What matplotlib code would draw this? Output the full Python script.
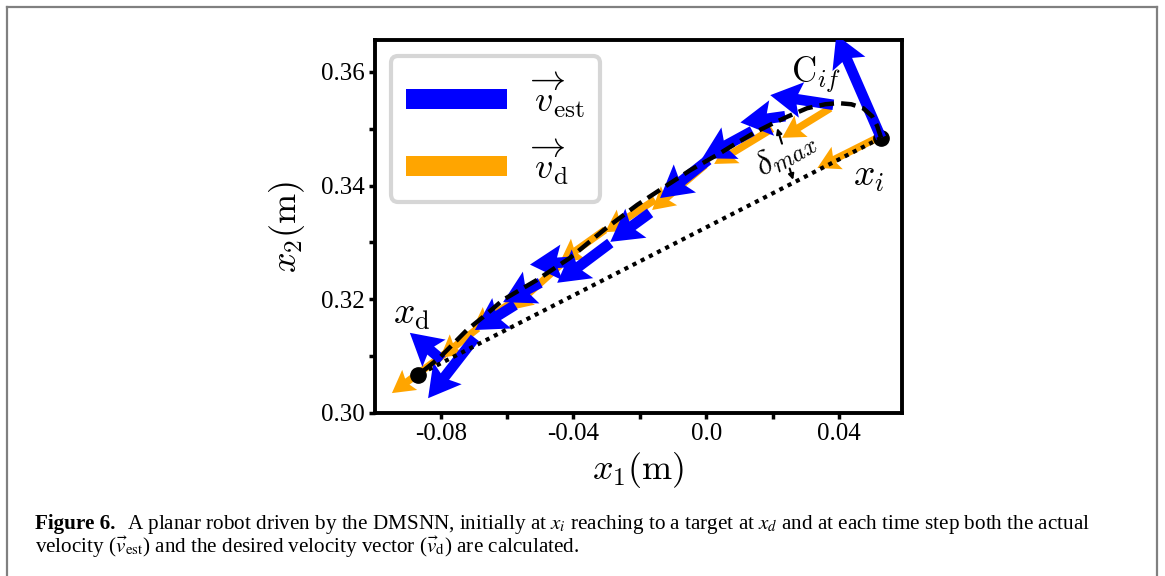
import matplotlib
matplotlib.use("Agg")
import matplotlib.pyplot as plt
from matplotlib.lines import Line2D
from matplotlib.patches import Patch

plt.rcParams["mathtext.fontset"] = "cm"
plt.rcParams["font.family"] = ["Liberation Serif", "DejaVu Serif"]
plt.rcParams["axes.unicode_minus"] = False

# ---- data (metres) ---------------------------------------------------------
# end-effector path from x_i to x_d
path_x = [0.0527, 0.0515, 0.0500, 0.0473, 0.0437, 0.0398, 0.0359, 0.0304,
          0.0244, 0.0193, 0.0142, 0.0081, 0.0042, -0.0048, -0.0130, -0.0208,
          -0.0304, -0.0410, -0.0510, -0.0612, -0.0672, -0.0721, -0.0802,
          -0.0868]
path_y = [0.3484, 0.3505, 0.3522, 0.3536, 0.3543, 0.3545, 0.3543, 0.3536,
          0.3521, 0.3507, 0.3492, 0.3471, 0.3457, 0.3427, 0.3396, 0.3366,
          0.3324, 0.3273, 0.3234, 0.3199, 0.3169, 0.3146, 0.3098, 0.3067]

start_x, start_y = 0.0527, 0.3484
goal_x, goal_y = -0.0868, 0.3067

# estimated velocity vectors (tail position + components)
est_x = [0.0527, 0.0383, 0.0238, 0.0139, 0.0006, -0.0169, -0.0289, -0.0401,
         -0.0500, -0.0576, -0.0697, -0.0796]
est_y = [0.3484, 0.3542, 0.3522, 0.3496, 0.3445, 0.3352, 0.3299, 0.3266,
         0.3229, 0.3190, 0.3132, 0.3093]
est_u = [-0.0135, -0.0190, -0.0135, -0.0151, -0.0145, -0.0120, -0.0160,
         -0.0130, -0.0112, -0.0121, -0.0141, -0.0097]
est_v = [0.0181, 0.0017, -0.0011, -0.0048, -0.0067, -0.0051, -0.0070,
         -0.0005, -0.0034, -0.0044, -0.0106, 0.0048]

# desired velocity vectors
des_x = [0.0516, 0.0374, 0.0199, -0.0003, -0.0154, -0.0305, -0.0440,
         -0.0576, -0.0688, -0.0781]
des_y = [0.3484, 0.3536, 0.3500, 0.3436, 0.3375, 0.3322, 0.3260, 0.3199,
         0.3149, 0.3107]
des_u = [-0.0181, -0.0145, -0.0175, -0.0160, -0.0151, -0.0135, -0.0151,
         -0.0130, -0.0114, -0.0166]
des_v = [-0.0053, -0.0052, -0.0062, -0.0079, -0.0057, -0.0056, -0.0079,
         -0.0053, -0.0052, -0.0072]

# max deviation between the path and the straight line
delta_top = (0.0214, 0.3501)
delta_bot = (0.0262, 0.3410)

x_major = [-0.08, -0.04, 0.0, 0.04]
x_major_labels = ["-0.08", "-0.04", "0.0", "0.04"]
x_minor = [-0.06, -0.02, 0.02]
y_major = [0.30, 0.32, 0.34, 0.36]
y_major_labels = ["0.30", "0.32", "0.34", "0.36"]
y_minor = [0.31, 0.33, 0.35]

W, H = 1165, 576
fig = plt.figure(figsize=(W / 100, H / 100), dpi=100)
ax = fig.add_axes([375 / W, 1 - 413 / H, 527 / W, 373 / H])

ax.quiver(des_x, des_y, des_u, des_v, angles="xy", scale_units="xy", scale=1,
          color="orange", width=0.014, headwidth=3.4, headlength=3.0,
          headaxislength=2.6, zorder=2)
ax.plot([start_x, goal_x], [start_y, goal_y], "o", ms=11, color="k", zorder=2.5)
ax.quiver(est_x, est_y, est_u, est_v, angles="xy", scale_units="xy", scale=1,
          color="blue", width=0.02, headwidth=3.4, headlength=3.0,
          headaxislength=2.6, zorder=3)
ax.plot([start_x, goal_x], [start_y, goal_y], color="k", lw=3,
        linestyle=(0, (1, 1.2)), zorder=4)
ax.plot(path_x, path_y, color="k", lw=3.2, dashes=(3.3, 1.6), zorder=5)

# delta_max marker, broken around its label
p0, p1 = delta_top, delta_bot
mid_a = (p0[0] + 0.3 * (p1[0] - p0[0]), p0[1] + 0.3 * (p1[1] - p0[1]))
mid_b = (p0[0] + 0.78 * (p1[0] - p0[0]), p0[1] + 0.78 * (p1[1] - p0[1]))
arrow_kw = dict(arrowstyle="-|>", lw=1.5, color="k", mutation_scale=8,
                shrinkA=0, shrinkB=0)
ax.annotate("", xy=p0, xytext=mid_a, arrowprops=arrow_kw, zorder=6)
ax.annotate("", xy=p1, xytext=mid_b, arrowprops=arrow_kw, zorder=6)

ax.text(0.0240, 0.3456, r"$\delta_{max}$", fontsize=25, rotation=30,
        ha="center", va="center", zorder=7)
ax.text(0.0330, 0.3594, r"$\mathrm{C}_{if}$", fontsize=25, ha="center",
        va="center", zorder=7)
ax.text(0.0488, 0.3415, r"$x_i$", fontsize=27, ha="center", va="center",
        zorder=7)
ax.text(-0.0887, 0.3172, r"$x_\mathrm{d}$", fontsize=27, ha="center",
        va="center", zorder=7)

ax.set_xlim(-0.0998, 0.0590)
ax.set_ylim(0.300, 0.3656)
ax.set_xticks(x_major, x_major_labels)
ax.set_xticks(x_minor, minor=True)
ax.set_yticks(y_major, y_major_labels)
ax.set_yticks(y_minor, minor=True)
ax.tick_params(which="both", direction="out", length=4, width=2.5,
               labelsize=18, color="k")
for sp in ax.spines.values():
    sp.set_linewidth(2.8)

ax.set_xlabel(r"$x_1\mathrm{(m)}$", fontsize=26, labelpad=3)
ax.set_ylabel(r"$x_2\mathrm{(m)}$", fontsize=26, labelpad=10)

handles = [Patch(facecolor="blue", edgecolor="none"),
           Patch(facecolor="orange", edgecolor="none")]
leg = ax.legend(handles, [r"$\overrightarrow{v}_\mathrm{est}$",
                          r"$\overrightarrow{v}_\mathrm{d}$"],
                loc="upper left", fontsize=26, handlelength=2.8,
                handleheight=0.48, handletextpad=0.65, labelspacing=0.5,
                borderaxespad=0.45, borderpad=0.4, framealpha=1,
                edgecolor="#d6d6d6", fancybox=True)
leg.get_frame().set_linewidth(3)

# page frame around the figure
frame_kw = dict(color="#808080", lw=1.6, transform=fig.transFigure)
fig.add_artist(Line2D([7 / W, 7 / W], [0, 1 - 7 / H], **frame_kw))
fig.add_artist(Line2D([1157 / W, 1157 / W], [0, 1 - 7 / H], **frame_kw))
fig.add_artist(Line2D([7 / W, 1157 / W], [1 - 7 / H, 1 - 7 / H], **frame_kw))

# caption
cap_size = 15.2
head = fig.text(35 / W, 1 - 529 / H, "Figure 6.", fontsize=cap_size,
                fontweight="bold", va="baseline")
renderer = fig.canvas.get_renderer()
bb = head.get_window_extent(renderer)
fig.text((bb.x1 + 12) / W, 1 - 529 / H,
         r"A planar robot driven by the DMSNN, initially at $x_i$ reaching "
         r"to a target at $x_d$ and at each time step both the actual",
         fontsize=cap_size, va="baseline", math_fontfamily="stix")
fig.text(35 / W, 1 - 553 / H,
         r"velocity ($\vec{v}_\mathrm{est}$) and the desired velocity vector "
         r"($\vec{v}_\mathrm{d}$) are calculated.",
         fontsize=cap_size, va="baseline", math_fontfamily="stix")

fig.savefig("out.png", dpi=100)
